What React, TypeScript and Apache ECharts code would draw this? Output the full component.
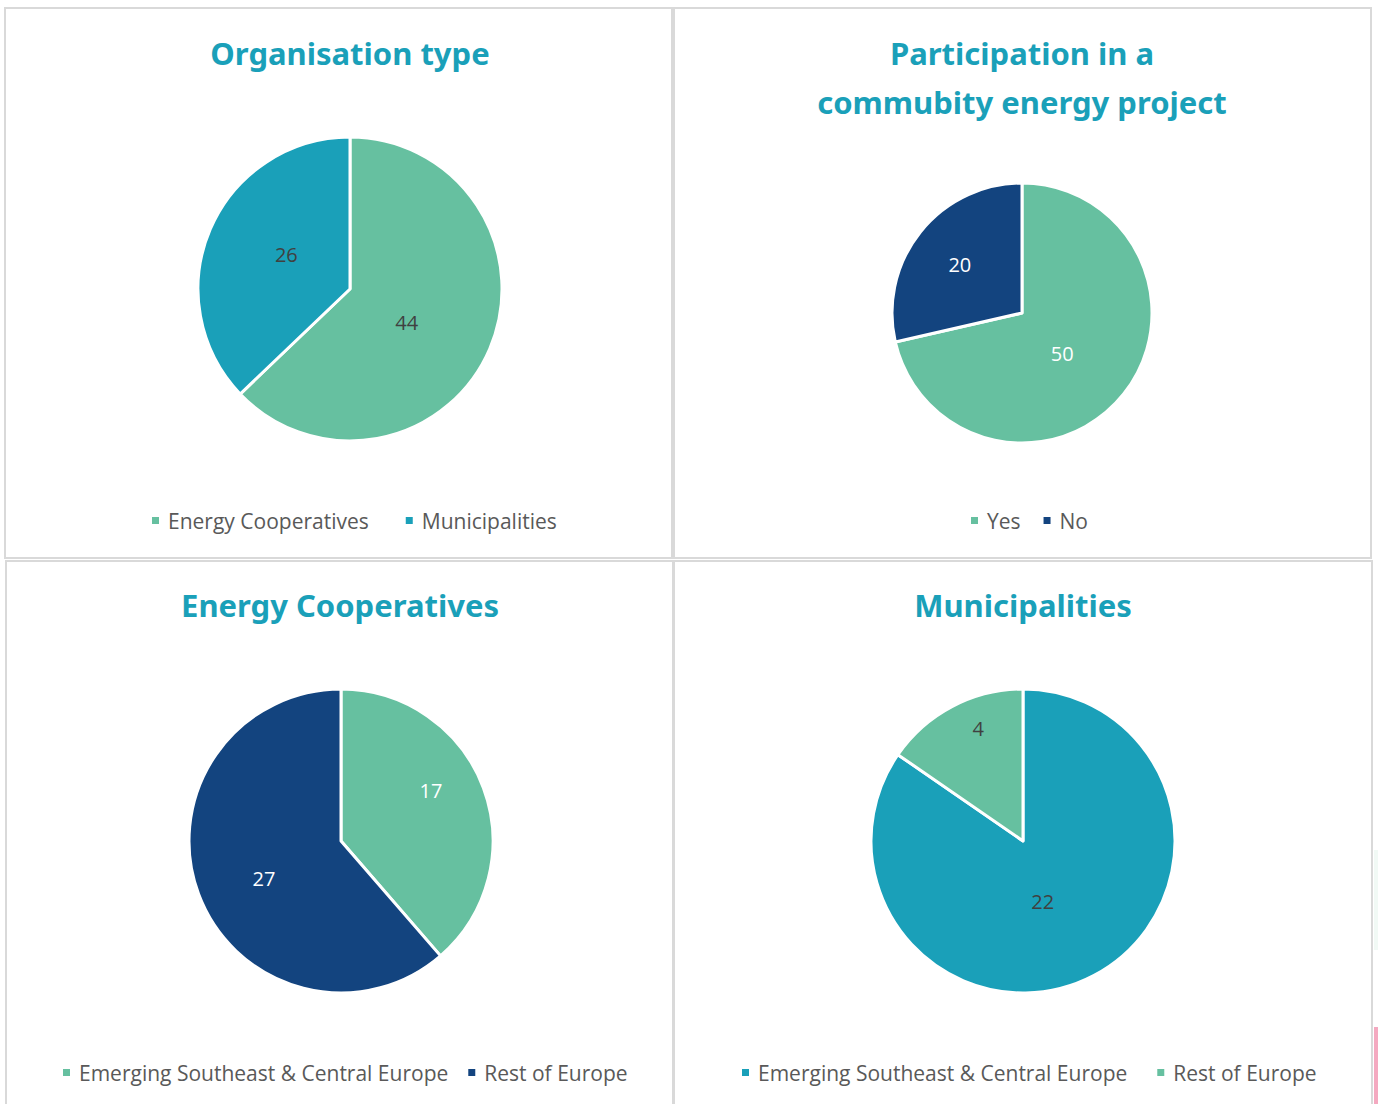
import React, { useEffect, useRef } from "react";
import * as echarts from "echarts";

// ---- data ----
const orgCategories = ["Energy Cooperatives", "Municipalities"];
const orgValues = [44, 26];
const participationCategories = ["Yes", "No"];
const participationValues = [50, 20];
const regionCategories = ["Emerging Southeast & Central Europe", "Rest of Europe"];
const coopRegionValues = [17, 27];
const muniRegionValues = [22, 4];
const panelTitles = [
  "Organisation type",
  "Participation in a\ncommubity energy project",
  "Energy Cooperatives",
  "Municipalities",
];

// ---- styles ----
const GREEN = "#66c0a0";
const TEAL = "#1aa0b9";
const NAVY = "#13447f";
const BORDER = "#d9d9d9";

const panels = [
  {
    cats: orgCategories, vals: orgValues, title: panelTitles[0],
    colors: [GREEN, TEAL], labelColor: "#404040",
    center: [350, 289], radius: 152, titleX: 350, titleY: 53, titleLH: 49,
    legendLeft: 150, legendTop: 510, legendGap: 35,
    pads: [[4, 32, 0, 0], [0, 0, 6, 18]],
    rect: [5, 8, 667, 550],
  },
  {
    cats: participationCategories, vals: participationValues, title: panelTitles[1],
    colors: [GREEN, NAVY], labelColor: "#ffffff",
    center: [1022, 313], radius: 130, titleX: 1022, titleY: 77.5, titleLH: 49,
    legendLeft: 969, legendTop: 510, legendGap: 21,
    pads: [[0, 26, 4, 0], [0, 18, 12, 0]],
    rect: [674, 8, 697, 550],
  },
  {
    cats: regionCategories, vals: coopRegionValues, title: panelTitles[2],
    colors: [GREEN, NAVY], labelColor: "#ffffff",
    center: [341, 841], radius: 152, titleX: 340, titleY: 605, titleLH: 49,
    legendLeft: 61, legendTop: 1062, legendGap: 18,
    pads: [[0, 0, 46, 32], [20, 6, 0, 0]],
    rect: [6, 561, 667, 560],
  },
  {
    cats: regionCategories, vals: muniRegionValues, title: panelTitles[3],
    colors: [TEAL, GREEN], labelColor: "#404040",
    center: [1023, 841], radius: 152, titleX: 1023, titleY: 605, titleLH: 49,
    legendLeft: 740, legendTop: 1062, legendGap: 28,
    pads: [[0, 34, 18, 0], [0, 16, 86, 0]],
    rect: [674, 561, 698, 560],
  },
];

export default function App() {
  const ref = useRef<HTMLDivElement>(null);
  useEffect(() => {
    if (!ref.current) return;
    const chart = echarts.init(ref.current, undefined, { renderer: "svg" });
    const option: any = {
      animation: false,
      backgroundColor: "#ffffff",
      title: panels.map((p) => ({
        text: p.title,
        left: p.titleX,
        top: p.titleY,
        textAlign: "center",
        textVerticalAlign: "middle",
        padding: 0,
        textStyle: {
          color: TEAL,
          fontSize: 31,
          fontWeight: "bold",
          fontFamily: "Noto Sans",
          lineHeight: p.titleLH,
        },
      })),
      legend: panels.map((p) => ({
        data: p.cats.map((c, i) => ({ name: c, itemStyle: { color: p.colors[i] } })),
        left: p.legendLeft,
        top: p.legendTop,
        padding: 0,
        orient: "horizontal",
        icon: "rect",
        itemWidth: 9,
        itemHeight: 9,
        itemGap: p.legendGap,
        selectedMode: false,
        textStyle: {
          color: "#595959",
          fontSize: 21,
          fontFamily: "Open Sans",
          padding: [0, 0, 0, 3],
        },
      })),
      series: panels.map((p) => ({
        type: "pie",
        center: p.center,
        radius: p.radius,
        startAngle: 90,
        clockwise: true,
        silent: true,
        itemStyle: { borderColor: "#ffffff", borderWidth: 3 },
        label: {
          show: true,
          position: "inside",
          formatter: "{v|{c}}",
          fontSize: 20,
          fontFamily: "Open Sans",
          color: p.labelColor,
        },
        labelLine: { show: false },
        emphasis: { disabled: true },
        data: p.cats.map((c, i) => ({
          name: c,
          value: p.vals[i],
          itemStyle: { color: p.colors[i] },
          label: {
            rich: {
              v: {
                fontSize: 20,
                fontFamily: "Open Sans",
                color: p.labelColor,
                padding: p.pads[i],
              },
            },
          },
        })),
      })),
      graphic: [
        ...panels.map((p) => ({
          type: "rect",
          shape: { x: p.rect[0], y: p.rect[1], width: p.rect[2], height: p.rect[3] },
          style: { fill: "none", stroke: BORDER, lineWidth: 2 },
          silent: true,
          z: -1,
        })),
        {
          type: "rect",
          shape: { x: 1374, y: 850, width: 4, height: 100 },
          style: { fill: "#f1f9f5" },
          silent: true,
        },
        {
          type: "rect",
          shape: { x: 1374, y: 1027, width: 4, height: 77 },
          style: { fill: "#f4a9c0" },
          silent: true,
        },
      ],
    };
    chart.setOption(option);
    return () => chart.dispose();
  }, []);
  return (
    <div
      ref={ref}
      style={{ position: "absolute", left: 0, top: 0, width: 1378, height: 1104 }}
    />
  );
}
